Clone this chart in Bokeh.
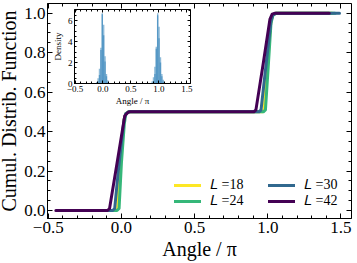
import numpy as np
from bokeh.plotting import figure
from bokeh.models import (Range1d, SingleIntervalTicker, LinearAxis, Legend, LegendItem,
                          CustomJSTickFormatter)
from bokeh.layouts import column
from bokeh.embed import file_html
from bokeh.resources import INLINE

FONT = "Liberation Serif"

# ---- data: cumulative distribution curves (angle / pi) ----
L_values = [18, 24, 30, 42]
colors = ["#fde725", "#35b779", "#31688e", "#440154"]

x18 = [-0.39, -0.04, -0.026, -0.008, 0.018, 0.03, 0.05, 0.962, 0.975, 0.998, 1.02, 1.033, 1.055, 1.44]
y18 = [0.0, 0.0, 0.01, 0.24, 0.46, 0.49, 0.5, 0.5, 0.51, 0.75, 0.95, 0.99, 1.0, 1.0]
x24 = [-0.38, -0.03, -0.016, 0.0, 0.02, 0.03, 0.05, 0.97, 0.984, 1.005, 1.022, 1.035, 1.055, 1.46]
y24 = [0.0, 0.0, 0.01, 0.24, 0.44, 0.49, 0.5, 0.5, 0.51, 0.75, 0.95, 0.99, 1.0, 1.0]
x30 = [-0.40, -0.06, -0.046, -0.016, 0.018, 0.03, 0.05, 0.94, 0.954, 0.99, 1.022, 1.035, 1.055, 1.49]
y30 = [0.0, 0.0, 0.01, 0.24, 0.46, 0.49, 0.5, 0.5, 0.51, 0.75, 0.96, 0.99, 1.0, 1.0]
x42 = [-0.448, -0.095, -0.081, -0.03, 0.023, 0.046, 0.06, 0.905, 0.919, 0.97, 1.015, 1.03, 1.05, 1.42]
y42 = [0.0, 0.0, 0.01, 0.24, 0.48, 0.498, 0.5, 0.5, 0.51, 0.75, 0.97, 0.995, 1.0, 1.0]
curves_x = [x18, x24, x30, x42]
curves_y = [y18, y24, y30, y42]

# ---- data: inset histograms (density) ----
edges1 = [-0.15, -0.125, -0.1, -0.075, -0.05, -0.025, 0.0, 0.025, 0.05, 0.075, 0.1]
densA1 = [0.05, 0.15, 0.5, 1.4, 3.4, 6.6, 4.6, 2.1, 0.9, 0.3]
densB1 = [0.0, 0.05, 0.2, 0.8, 3.2, 6.7, 5.6, 2.6, 0.7, 0.15]
edges2 = [0.84, 0.865, 0.89, 0.915, 0.94, 0.965, 0.99, 1.015, 1.04, 1.065, 1.09]
densA2 = [0.05, 0.2, 0.6, 1.6, 3.5, 6.5, 4.3, 2.0, 0.9, 0.35]
densB2 = [0.0, 0.05, 0.25, 0.9, 3.3, 6.7, 5.4, 2.5, 0.7, 0.2]

fmt1 = CustomJSTickFormatter(code="return tick.toFixed(1).replace('-', '\u2212');")
fmt0 = CustomJSTickFormatter(code="return tick.toFixed(0).replace('-', '\u2212');")
fmt_blank = CustomJSTickFormatter(code="return '';")


def style_axes(fig, xint, xminor, yint, yminor, fsize, lsize, tin, tmin, xfmt, yfmt):
    fig.xgrid.visible = False
    fig.ygrid.visible = False
    fig.outline_line_color = "black"
    fig.outline_line_width = 1
    bottom = fig.below[0]
    left = fig.left[0]
    out = {}
    for side, interval, nminor, fmt in (("below", xint, xminor, xfmt), ("left", yint, yminor, yfmt),
                                        ("above", xint, xminor, fmt_blank), ("right", yint, yminor, fmt_blank)):
        if side == "below":
            ax = bottom
        elif side == "left":
            ax = left
        else:
            ax = LinearAxis(axis_label=None)
            if side == "above":
                ax.fixed_location = fig.y_range.end
            else:
                ax.fixed_location = fig.x_range.end
            fig.add_layout(ax, side)
            ax.major_label_text_font_size = "0px"
            ax.major_label_text_color = None
            ax.major_label_standoff = 0
            ax.axis_label_standoff = 0
        ax.ticker = SingleIntervalTicker(interval=interval, num_minor_ticks=nminor)
        ax.formatter = fmt
        ax.axis_line_color = "black"
        ax.major_tick_line_color = "black"
        ax.minor_tick_line_color = "black"
        ax.major_tick_in = tin
        ax.major_tick_out = 0
        ax.minor_tick_in = tmin
        ax.minor_tick_out = 0
        if side in ("below", "left"):
            ax.major_label_text_font = FONT
            ax.major_label_text_font_size = fsize
            ax.major_label_text_color = "black"
            ax.axis_label_text_font = FONT
            ax.axis_label_text_font_size = lsize
            ax.axis_label_text_font_style = "normal"
            ax.axis_label_text_color = "black"
        out[side] = ax
    return out["below"], out["left"]


# ---- main figure ----
p = figure(width=362, height=263, output_backend="svg", toolbar_location=None,
           x_range=Range1d(-0.505, 1.572), y_range=Range1d(-0.0405, 1.049),
           min_border_left=47, min_border_right=4, min_border_top=3, min_border_bottom=45,
           background_fill_color="white", border_fill_color="white")
pb, pl = style_axes(p, 0.5, 5, 0.2, 4, "17px", "20px", 5, 3, fmt1, fmt1)
pb.axis_label = "Angle / π"
pl.axis_label = "Cumul. Distrib. Function"
pb.major_label_standoff = 3
pl.major_label_standoff = 2
pb.axis_label_standoff = 2
pl.axis_label_standoff = 1

renderers = []
for xs, ys, c in zip(curves_x, curves_y, colors):
    r = p.line(xs, ys, line_color=c, line_width=3, line_join="round", line_cap="round")
    renderers.append(r)

legend_kw = dict(border_line_color=None, background_fill_alpha=0, padding=0, margin=0,
                 spacing=0, glyph_width=27, glyph_height=16, label_height=16, label_width=42,
                 label_standoff=9, label_text_font=FONT, label_text_font_size="14px",
                 label_text_color="black")
leg1 = Legend(items=[LegendItem(label="𝐿 =%d" % L_values[0], renderers=[renderers[0]]),
                     LegendItem(label="𝐿 =%d" % L_values[1], renderers=[renderers[1]])],
              location=(127, 9), **legend_kw)
leg2 = Legend(items=[LegendItem(label="𝐿 =%d" % L_values[2], renderers=[renderers[2]]),
                     LegendItem(label="𝐿 =%d" % L_values[3], renderers=[renderers[3]])],
              location=(221, 9), **legend_kw)
p.add_layout(leg1)
p.add_layout(leg2)

# ---- inset figure ----
ins = figure(width=174, height=101, output_backend="svg", toolbar_location=None,
             x_range=Range1d(-0.509, 1.564), y_range=Range1d(0, 7.05),
             min_border_left=21, min_border_right=6, min_border_top=2, min_border_bottom=22,
             background_fill_color="white", border_fill_color=None,
             styles={"position": "absolute", "left": "27px", "top": "7px"})
ib, il = style_axes(ins, 0.5, 5, 2, 4, "9px", "9px", 3, 2, fmt1, fmt0)
ib.axis_label = "Angle / π"
il.axis_label = "Density"
ib.major_label_standoff = 2
il.major_label_standoff = 2
ib.axis_label_standoff = 1
il.axis_label_standoff = 2

for edges, dens in ((edges1, densA1), (edges1, densB1), (edges2, densA2), (edges2, densB2)):
    e = np.array(edges)
    ins.quad(left=e[:-1], right=e[1:], bottom=0, top=dens,
             fill_color="#1f77b4", fill_alpha=0.5, line_color=None)

layout = column(p, ins, styles={"position": "relative", "margin-left": "-5px"})

open("out.html", "w").write(file_html(layout, INLINE))
